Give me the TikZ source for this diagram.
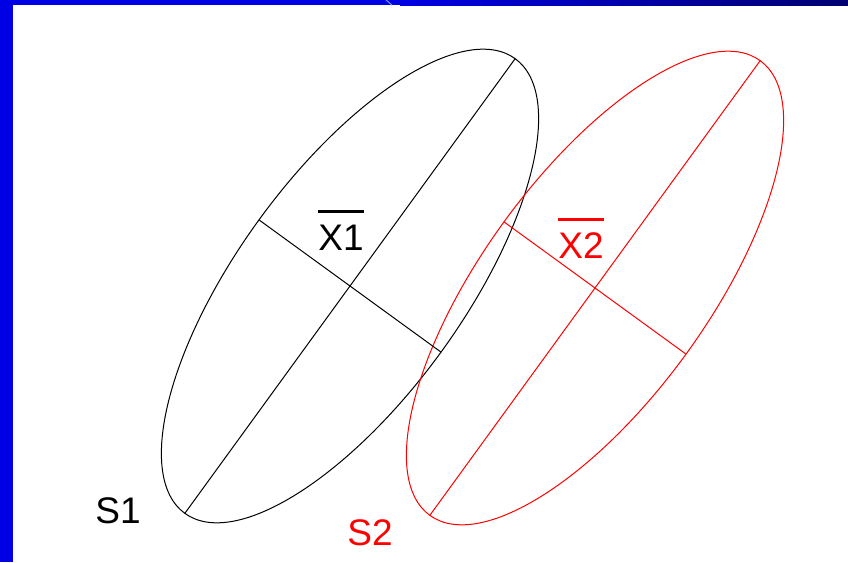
\documentclass[tikz,border=0pt]{standalone}
\usepackage{fontspec}
\setmainfont{Liberation Sans}
\usetikzlibrary{shapes.geometric}
\definecolor{slideblue}{RGB}{0,0,228}
\definecolor{slidenavy}{RGB}{0,0,112}
\definecolor{lineblue}{RGB}{110,150,255}
\newcommand{\barlabel}[1]{\leavevmode\setbox0=\hbox{#1}\rlap{\rule[37.5pt]{\wd0}{3pt}}\box0}
\begin{document}
\begin{tikzpicture}[x=1pt, y=-1pt, line cap=round, line join=round,
    cloud/.style={ellipse, draw, line width=1pt, inner sep=0pt, outer sep=0pt,
      minimum width=562pt, minimum height=225pt},
    lbl/.style={anchor=base, inner sep=0pt, font=\fontsize{37}{42}\selectfont}]
    \useasboundingbox (0,0) rectangle (848,562);
    \fill[white] (0,0) rectangle (848,562);
    % slide frame
    \fill[slideblue] (0,0) rectangle (13,562);
    \fill[slideblue] (0,0) rectangle (400,5);
    \shade[left color=slideblue, right color=slidenavy] (400,0) rectangle (848,5);
    \draw[lineblue, line width=1pt] (386,0) -- (392,5);
    % the two groups
    \node[cloud, rotate=54] (e1) at (350,286) {};
    \node[cloud, red, rotate=54] (e2) at (595,288) {};
    \draw[line width=1pt] (e1.west) -- (e1.east);
    \draw[line width=1pt] (e1.north) -- (e1.south);
    \draw[red, line width=1pt] (e2.west) -- (e2.east);
    \draw[red, line width=1pt] (e2.north) -- (e2.south);
    \node[lbl] (m1) at (341,250) {\barlabel{X1}};
    \node[lbl, red] (m2) at (581,258) {\barlabel{X2}};
    \node[lbl] (s1) at (118,523) {S1};
    \node[lbl, red] (s2) at (370,545) {S2};
\end{tikzpicture}
\end{document}
